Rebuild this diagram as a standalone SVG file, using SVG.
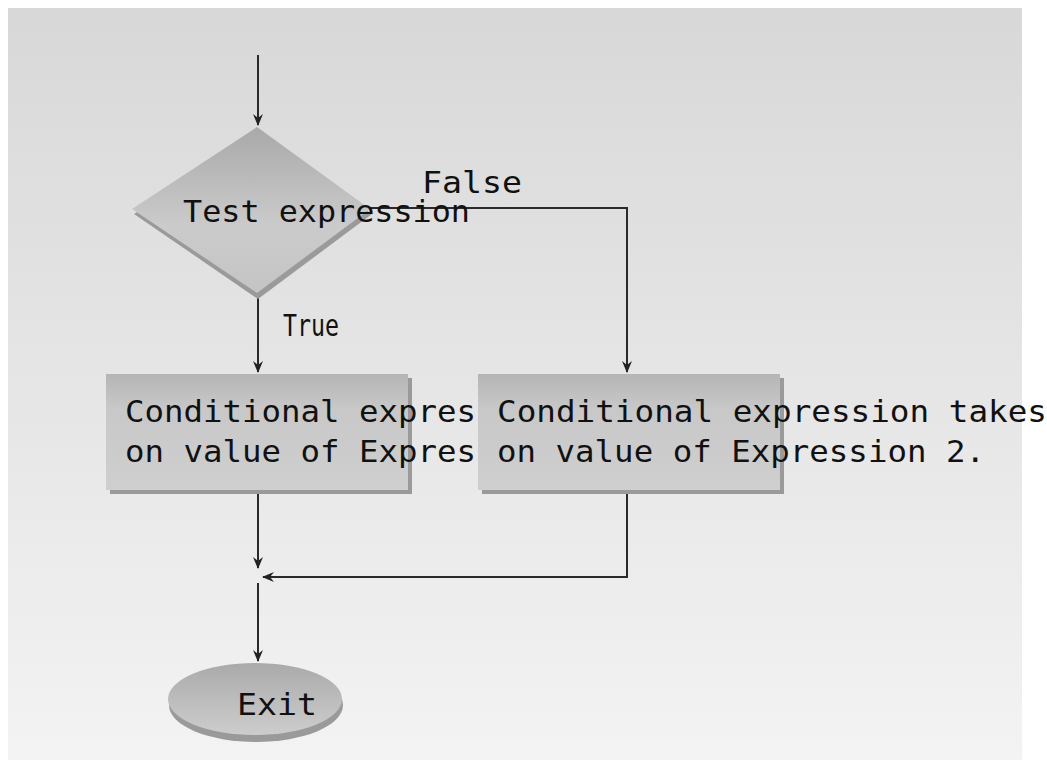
<svg xmlns="http://www.w3.org/2000/svg" width="1047" height="765" viewBox="0 0 1047 765">
<style>
.t{font-family:"DejaVu Sans Mono","Liberation Mono",monospace;font-size:31px;fill:#111}
.c{stroke:#2a2a2a;stroke-width:2;fill:none}
.sh{fill:#9a9a9a}
</style>
<defs>
<linearGradient id="bg" x1="0" y1="0" x2="0" y2="1">
<stop offset="0" stop-color="#d8d8d8"/><stop offset="1" stop-color="#f3f3f3"/>
</linearGradient>
<linearGradient id="box" x1="0" y1="0" x2="0" y2="1">
<stop offset="0" stop-color="#b5b5b5"/><stop offset="0.3" stop-color="#c8c8c8"/><stop offset="1" stop-color="#cfcfcf"/>
</linearGradient>
<linearGradient id="dia" x1="0" y1="0" x2="0" y2="1">
<stop offset="0" stop-color="#a9a9a9"/><stop offset="0.6" stop-color="#cbcbcb"/><stop offset="1" stop-color="#c4c4c4"/>
</linearGradient>
<linearGradient id="ell" x1="0" y1="0" x2="0" y2="1">
<stop offset="0" stop-color="#aaaaaa"/><stop offset="1" stop-color="#cdcdcd"/>
</linearGradient>
<marker id="ah" viewBox="0 0 12 12" refX="11" refY="6" markerWidth="12" markerHeight="12" markerUnits="userSpaceOnUse" orient="auto">
<path d="M0,1 L12,6 L0,11 L4,6 z" fill="#222"/>
</marker>
</defs>
<rect x="0" y="0" width="1047" height="765" fill="#ffffff"/>
<rect x="8" y="8" width="1014" height="752" fill="url(#bg)"/>

<g id="connectors">
<path class="c" d="M258,55 V125" marker-end="url(#ah)"/>
<path class="c" d="M370,208 H627 V372" marker-end="url(#ah)"/>
<path class="c" d="M258,296 V372" marker-end="url(#ah)"/>
<path class="c" d="M258,494 V568" marker-end="url(#ah)"/>
<path class="c" d="M627,494 V577 H263" marker-end="url(#ah)"/>
<path class="c" d="M258,583 V661" marker-end="url(#ah)"/>
</g>

<g id="test">
<polygon class="sh" points="258,133 372,214 258,299 134,214"/>
<polygon fill="url(#dia)" points="257,127 370,209 257,293 132,209"/>
<text class="t" x="183" y="222" textLength="287" lengthAdjust="spacingAndGlyphs">Test expression</text>
</g>

<g id="labels">
<text class="t" x="422" y="193" textLength="100" lengthAdjust="spacingAndGlyphs">False</text>
<text class="t" x="283" y="336" textLength="56" lengthAdjust="spacingAndGlyphs">True</text>
</g>

<g id="box1">
<rect class="sh" x="110" y="378" width="302" height="116"/>
<rect fill="url(#box)" x="106" y="374" width="302" height="116"/>
<text class="t" x="125" y="422" textLength="351" lengthAdjust="spacingAndGlyphs">Conditional expres</text>
<text class="t" x="125" y="462" textLength="351" lengthAdjust="spacingAndGlyphs">on value of Expres</text>
</g>

<g id="box2">
<rect class="sh" x="482" y="378" width="302" height="116"/>
<rect fill="url(#box)" x="478" y="374" width="302" height="116"/>
<text class="t" x="497" y="422" textLength="550" lengthAdjust="spacingAndGlyphs">Conditional expression takes</text>
<text class="t" x="497" y="462" textLength="488" lengthAdjust="spacingAndGlyphs">on value of Expression 2.</text>
</g>

<g id="exit">
<ellipse class="sh" cx="256" cy="705" rx="87" ry="37"/>
<ellipse fill="url(#ell)" cx="255" cy="699" rx="87" ry="36"/>
<text class="t" x="237" y="715" textLength="80" lengthAdjust="spacingAndGlyphs">Exit</text>
</g>
</svg>
